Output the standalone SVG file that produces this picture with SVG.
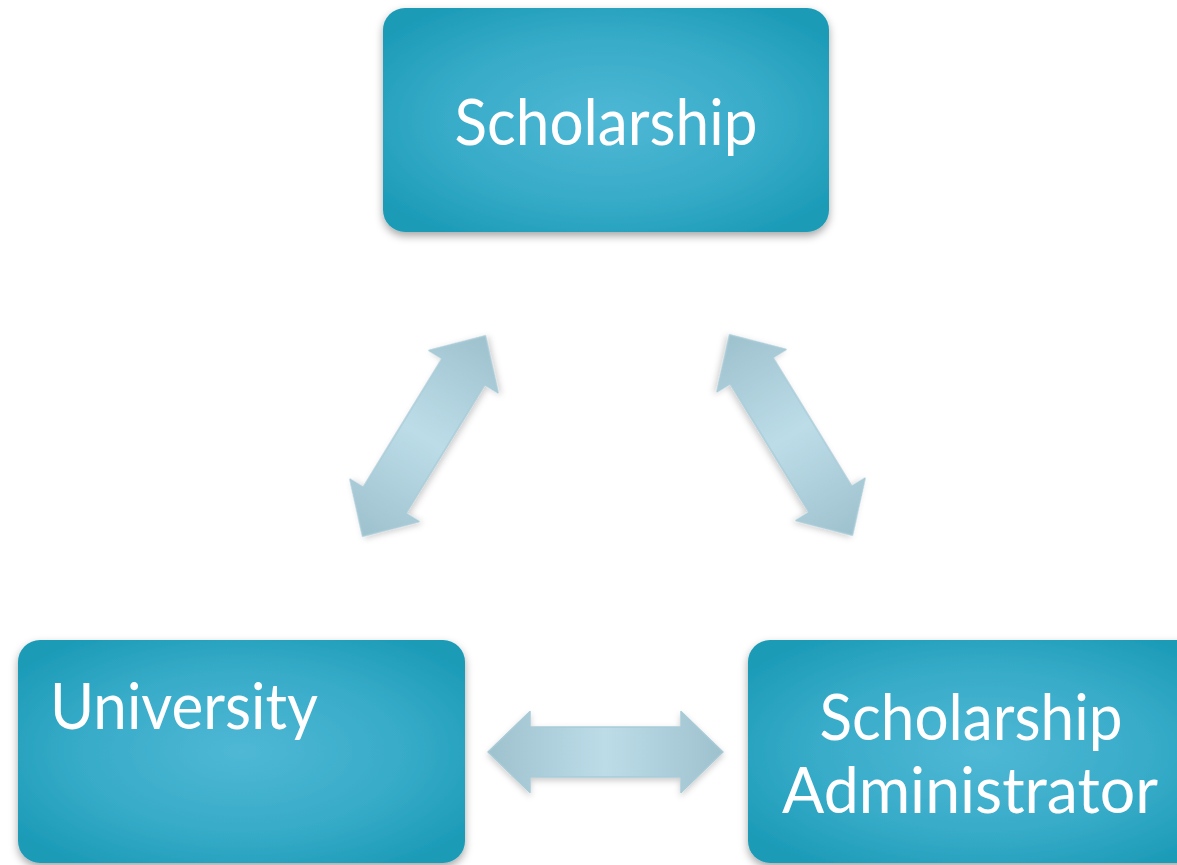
<svg xmlns="http://www.w3.org/2000/svg" width="1177" height="865" viewBox="0 0 1177 865">
  <defs>
    <radialGradient id="boxGrad" cx="0.5" cy="0.5" r="0.62">
      <stop offset="0" stop-color="#4fb8d5"/>
      <stop offset="0.6" stop-color="#36abc8"/>
      <stop offset="1" stop-color="#1c9bb7"/>
    </radialGradient>
    <linearGradient id="arrowGrad" x1="0" y1="0" x2="1" y2="0">
      <stop offset="0" stop-color="#9ec1ce"/>
      <stop offset="0.5" stop-color="#bcdde8"/>
      <stop offset="1" stop-color="#9ec1ce"/>
    </linearGradient>
    <filter id="shadow" x="-10%" y="-10%" width="120%" height="130%">
      <feDropShadow dx="0" dy="4" stdDeviation="4" flood-color="#000" flood-opacity="0.35"/>
    </filter>
    <filter id="ashadow" x="-10%" y="-20%" width="120%" height="150%">
      <feDropShadow dx="0" dy="3" stdDeviation="3" flood-color="#000" flood-opacity="0.2"/>
    </filter>
    <path id="dblArrow" d="M-117.5,0 L-75.5,-40.5 L-75.5,-25 L75.5,-25 L75.5,-40.5 L117.5,0 L75.5,40.5 L75.5,25 L-75.5,25 L-75.5,40.5 Z"/>
  </defs>
  <style>
    .box { fill: url(#boxGrad); filter: url(#shadow); }
    .label { font-family: "Lato", "Open Sans", "Liberation Sans", sans-serif; font-size: 64px; fill: #ffffff; }
    .arrow { fill: url(#arrowGrad); stroke: #a9cbd7; stroke-width: 1.5; stroke-linejoin: round; filter: url(#ashadow); }
  </style>
  <rect width="1177" height="865" fill="#ffffff"/>

  <g id="connectors">
    <use href="#dblArrow" class="arrow" transform="translate(424,436) rotate(-58.5)"/>
    <use href="#dblArrow" class="arrow" transform="translate(791,435) rotate(58.5)"/>
    <use href="#dblArrow" class="arrow" transform="translate(605.5,752)"/>
  </g>

  <g id="scholarship">
    <rect class="box" x="383" y="8" width="446" height="224" rx="22"/>
    <text class="label" x="606" y="145" text-anchor="middle" textLength="303" lengthAdjust="spacingAndGlyphs">Scholarship</text>
  </g>

  <g id="university">
    <rect class="box" x="18" y="640" width="447" height="223" rx="22"/>
    <text class="label" x="50" y="729" textLength="268" lengthAdjust="spacingAndGlyphs">University</text>
  </g>

  <g id="administrator">
    <rect class="box" x="748" y="640" width="470" height="223" rx="22"/>
    <text class="label" x="971" y="740" text-anchor="middle" textLength="303" lengthAdjust="spacingAndGlyphs">Scholarship</text>
    <text class="label" x="970" y="813" text-anchor="middle" textLength="376" lengthAdjust="spacingAndGlyphs">Administrator</text>
  </g>
</svg>
